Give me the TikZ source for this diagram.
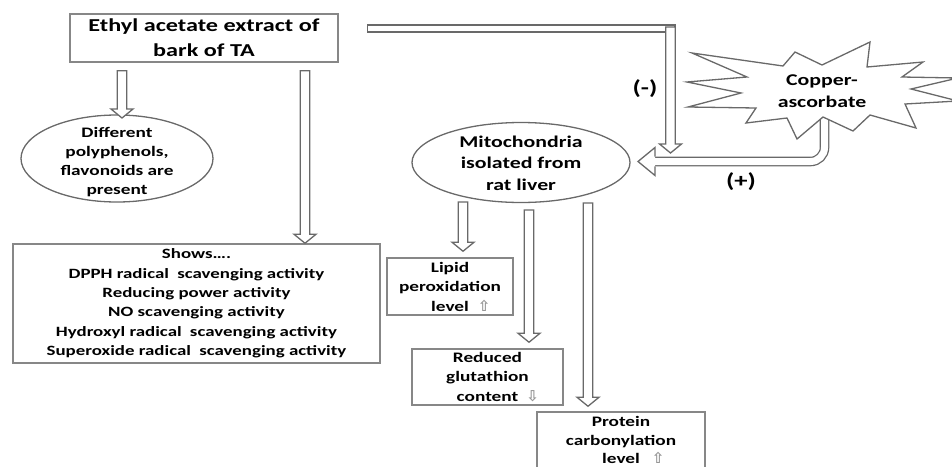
\documentclass[tikz,border=0pt]{standalone}
\usepackage{fontspec}
\setmainfont{Carlito}[FakeStretch=1.33]
\newfontfamily\symfont{DejaVu Sans}
\usetikzlibrary{calc}
\definecolor{linegray}{RGB}{105,105,105}
\definecolor{boxgray}{RGB}{135,135,135}
\definecolor{markgray}{RGB}{150,150,150}
\newcommand\arrW{4.75}
\newcommand\arrH{11}
\newcommand\arrL{9}
\newcommand\hollowdown[2]{%
  \filldraw[harrow] ($(#1)+(-\arrW,0)$) -- ($(#2)+(-\arrW,-\arrL)$) -- ($(#2)+(-\arrH,-\arrL)$) -- (#2)
   -- ($(#2)+(\arrH,-\arrL)$) -- ($(#2)+(\arrW,-\arrL)$) -- ($(#1)+(\arrW,0)$) -- cycle;}
\newcommand\myup{{\symfont\fontsize{15}{19}\selectfont\textcolor{markgray}{⇧}}}
\newcommand\mydown{{\symfont\fontsize{15}{19}\selectfont\textcolor{markgray}{⇩}}}
\tikzset{
  box/.style={draw=boxgray, line width=1.5pt, fill=white, align=center, inner sep=0pt},
  harrow/.style={draw=linegray, line width=1.3pt, fill=white, line join=miter},
  ringline/.style={draw=linegray, line width=1.3pt},
  plain/.style={align=center, inner sep=0pt},
  bigtxt/.style={font=\bfseries\fontsize{18.2}{25}\selectfont},
  midtxt/.style={font=\bfseries\fontsize{16.4}{21.5}\selectfont},
  smalltxt/.style={font=\bfseries\fontsize{14.5}{19.5}\selectfont},
  listtxt/.style={font=\bfseries\fontsize{14.2}{19.4}\selectfont},
  signtxt/.style={font=\bfseries\fontsize{20}{24}\selectfont},
}
\begin{document}
\begin{tikzpicture}[x=1pt,y=-1pt]
\useasboundingbox (0,0) rectangle (952,466);

% top box
\node[box, bigtxt, minimum width=268pt, minimum height=48pt] (top) at (204,38) {Ethyl acetate extract of\\bark of TA};

% polyphenols ellipse
\node[plain, font=\bfseries\fontsize{14.5}{18.7}\selectfont] (poly) at (117,162) {Different\\polyphenols,\\flavonoids are\\present};
\draw[ringline] ($(poly.center)+(0,-3.5)$) ellipse [x radius=96, y radius=43.5];

% shows box
\node[box, listtxt, minimum width=367pt, minimum height=119pt] (shows) at (196.5,303.5)
  {Shows….\\DPPH radical\hspace{4pt} scavenging activity\\Reducing power activity\\NO scavenging activity\\Hydroxyl radical\hspace{4pt} scavenging activity\\Superoxide radical\hspace{4pt} scavenging activity};

% mitochondria ellipse
\node[plain, midtxt] (mito) at (521,163) {Mitochondria\\isolated from\\rat liver};
\draw[ringline] ($(mito.center)+(0,-0.5)$) ellipse [x radius=109, y radius=40];

% result boxes
\node[box, smalltxt, minimum width=126pt, minimum height=57pt] (lipid) at (450,286.5) {Lipid\\peroxidation\\level\rlap{\hspace{9pt}\myup}};
\node[box, smalltxt, minimum width=151pt, minimum height=56pt] (gsh) at (487.5,377) {Reduced\\glutathion\\content\rlap{\hspace{8pt}\mydown}};
\node[box, font=\bfseries\fontsize{14.5}{18.8}\selectfont, minimum width=168pt, minimum height=56pt] (prot) at (621,440) {Protein\\carbonylation\\level\rlap{\hspace{12pt}\myup}};

% arrows from top box
\coordinate (a1s) at ($(top.south -| 122,0)+(0,8)$);
\coordinate (a1e) at (122,118);
\hollowdown{a1s}{a1e}
\coordinate (a2s) at ($(top.south -| 305,0)+(0,8)$);
\coordinate (a2e) at (shows.north -| 305,0);
\hollowdown{a2s}{a2e}

% (+) arrow from copper-ascorbate
\coordinate (ps) at (824.5,118);
\coordinate (pb) at (655,161.5);
\coordinate (pt) at (638,161.5);
\draw[draw=linegray, line width=1.3pt, double=white, double distance=7pt, rounded corners=14pt] (ps) |- (pb);
\filldraw[harrow] ($(pb)+(0,-4.8)$) -- ($(pb)+(0,-14)$) -- (pt) -- ($(pb)+(0,14)$) -- ($(pb)+(0,4.8)$);

% starburst
\draw[ringline, fill=white, line join=miter] (692,53) -- (783,66) -- (795,52) -- (822,65) -- (870,42) -- (867,67)
  -- (923,62) -- (902,77) -- (958,78) -- (911,89) -- (958,101) -- (905,104) -- (916,128) -- (870,115)
  -- (853,131) -- (823,117) -- (797,139) -- (787,118) -- (746,123) -- (756,108) -- (688,107) -- (741,93)
  -- (687,82) -- (747,77) -- cycle;
\node[plain, midtxt] (cu) at (822,91) {Copper-\\ascorbate};

% (-) arrow from top box
\coordinate (hb1) at ($(top.east)+(29,-13)$);
\coordinate (hb2) at (675,32);
\filldraw[harrow] (hb1) rectangle (hb2);
\coordinate (ms) at (670.5,27);
\coordinate (me) at (670.5,153);
\hollowdown{ms}{me}

% arrows from mitochondria
\coordinate (bAs) at (463,202);
\coordinate (bAe) at (lipid.north -| 463,0);
\coordinate (bBs) at (529,210);
\coordinate (bBe) at (gsh.north -| 529,0);
\coordinate (bCs) at (588,203);
\coordinate (bCe) at (prot.north -| 588,0);
\hollowdown{$(bAs)$}{$(bAe)+(0,-6)$}
\hollowdown{$(bBs)$}{$(bBe)+(0,-6)$}
\hollowdown{$(bCs)$}{$(bCe)+(0,-5)$}

% signs
\node[plain, signtxt] (minus) at (645,89) {(-)};
\node[plain, signtxt] (plus) at (741,182) {(+)};
\end{tikzpicture}
\end{document}
